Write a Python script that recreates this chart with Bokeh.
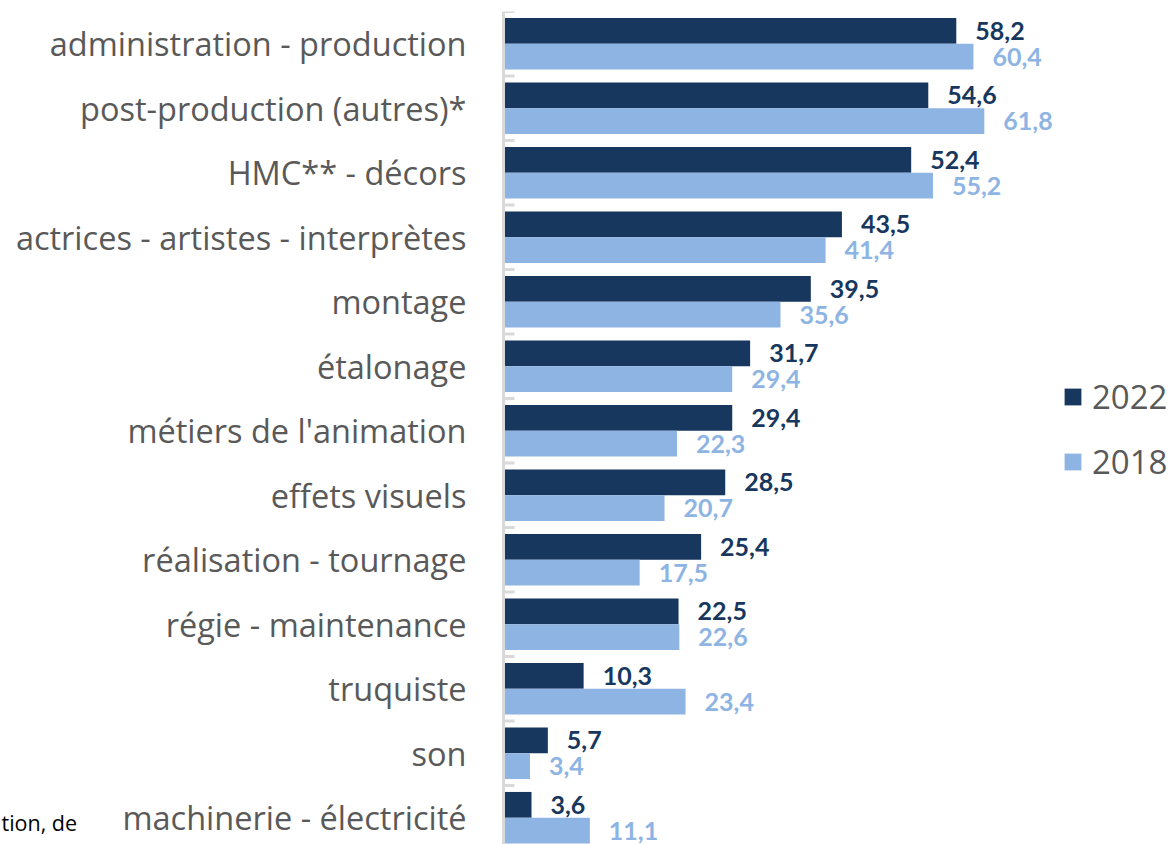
from bokeh.plotting import figure
from bokeh.models import (Range1d, ColumnDataSource, LabelSet, Legend, LegendItem,
                          Label, Span)
from bokeh.core.properties import value
from bokeh.embed import file_html
from bokeh.resources import INLINE

categories = ["administration - production", "post-production (autres)*", "HMC** - décors",
              "actrices - artistes - interprètes", "montage", "étalonage",
              "métiers de l'animation", "effets visuels", "réalisation - tournage",
              "régie - maintenance", "truquiste", "son", "machinerie - électricité"]
v2022 = [58.2, 54.6, 52.4, 43.5, 39.5, 31.7, 29.4, 28.5, 25.4, 22.5, 10.3, 5.7, 3.6]
v2018 = [60.4, 61.8, 55.2, 41.4, 35.6, 29.4, 22.3, 20.7, 17.5, 22.6, 23.4, 3.4, 11.1]
series = ["2022", "2018"]
footnote = "tion, de"

C22 = "#17375E"
C18 = "#8EB4E3"
GREY = "#595959"
AXIS = "#D9D9D9"
FONT = "Open Sans"
BOLD_FONT = "Lato"

PX_X = 7.78     # pixels per value unit
PX_Y = 64.5     # pixels per category band
LEFT = 503      # pixel position of the value axis
TOP = 11

n = len(categories)
idx = list(range(n))

def fmt(v):
    return f"{v:.1f}".replace(".", ",")

src22 = ColumnDataSource(dict(y=[i + 0.3 for i in idx], v=v2022, t=[fmt(v) for v in v2022]))
src18 = ColumnDataSource(dict(y=[i + 0.7 for i in idx], v=v2018, t=[fmt(v) for v in v2018]))
srccat = ColumnDataSource(dict(y=[i + 0.5 for i in idx], x=[0] * n, t=categories))
srctick = ColumnDataSource(dict(y=list(range(n + 1)), x0=[0] * (n + 1),
                                x1=[11 / PX_X] * (n + 1)))

p = figure(width=1171, height=844, output_backend="svg", toolbar_location=None,
           x_range=Range1d(-LEFT / PX_X, (1171 - LEFT) / PX_X),
           y_range=Range1d((844 - TOP) / PX_Y, 0),
           x_axis_location=None, y_axis_location=None,
           min_border_left=0, min_border_right=0, min_border_top=TOP, min_border_bottom=0)
p.outline_line_color = None
p.grid.visible = False
p.background_fill_color = "white"

r22 = p.hbar(y="y", left=0, right="v", height=0.4, source=src22, fill_color=C22, line_color=None)
r18 = p.hbar(y="y", left=0, right="v", height=0.4, source=src18, fill_color=C18, line_color=None)

# value axis line and category separators
p.add_layout(Span(location=0, dimension="height", line_color=AXIS, line_width=3))
p.segment(x0="x0", x1="x1", y0="y", y1="y", source=srctick, line_color=AXIS, line_width=3)

# category labels
p.add_layout(LabelSet(x="x", y="y", text="t", source=srccat, x_offset=-37,
                      text_align="right", text_baseline="middle",
                      text_font=value(FONT), text_font_size="32.5px", text_color=GREY))

# value labels
for src, col in ((src22, C22), (src18, C18)):
    p.add_layout(LabelSet(x="v", y="y", text="t", source=src, x_offset=19,
                          text_baseline="middle", text_align="left",
                          text_font=value(BOLD_FONT), text_font_style="bold",
                          text_font_size="25px", text_color=col))

legend = Legend(items=[LegendItem(label=series[0], renderers=[r22]),
                       LegendItem(label=series[1], renderers=[r18])],
                location=(1062, 360), orientation="vertical",
                glyph_width=21, glyph_height=21, label_standoff=9,
                label_text_font=FONT, label_text_font_size="33px",
                label_text_color=GREY, spacing=20, padding=0, margin=0,
                border_line_color=None, background_fill_alpha=0)
p.add_layout(legend)

p.add_layout(Label(x=(1 - LEFT) / PX_X, y=(822 - TOP) / PX_Y, text=footnote,
                   text_align="left", text_baseline="alphabetic", text_font=FONT,
                   text_font_size="21.5px", text_color="#000000"))

open("out.html", "w").write(file_html(p, INLINE))
